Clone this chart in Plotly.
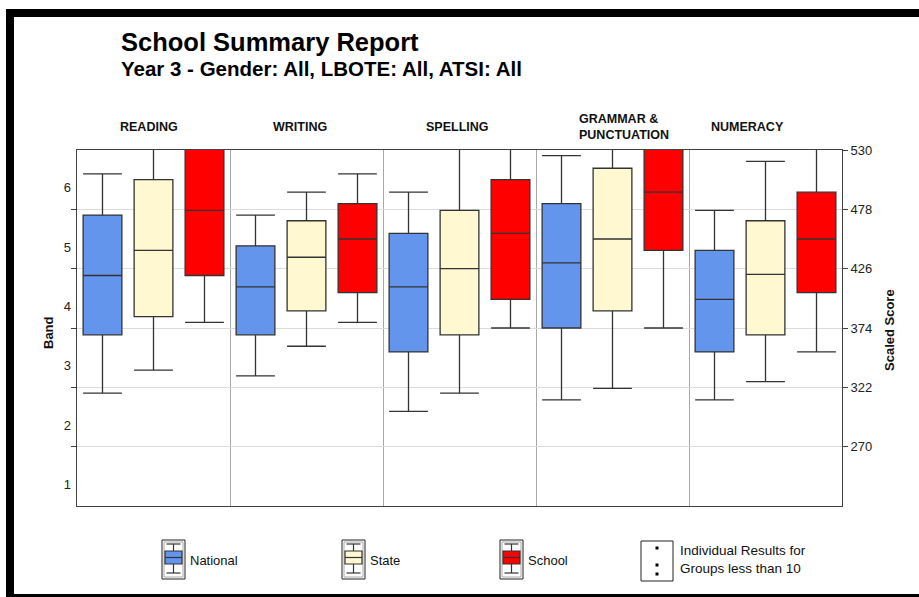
import plotly.graph_objects as go

# ---------------- data ----------------
subjects = ["READING", "WRITING", "SPELLING", "GRAMMAR &<br>PUNCTUATION", "NUMERACY"]
groups = ["National", "State", "School"]

national_upper = [509, 473, 493, 525, 477]
national_q3 = [473, 446, 457, 483, 442]
national_median = [420, 410, 410, 431, 399]
national_q1 = [368, 368, 353, 374, 353]
national_lower = [317, 332, 301, 311, 311]

state_upper = [545, 493, 545, 545, 520]
state_q3 = [504, 468, 477, 514, 468]
state_median = [442, 436, 426, 452, 421]
state_q1 = [384, 389, 368, 389, 368]
state_lower = [337, 358, 317, 321, 327]

school_upper = [560, 509, 545, 560, 545]
school_q3 = [540, 483, 504, 540, 493]
school_median = [477, 452, 457, 493, 452]
school_q1 = [420, 405, 399, 442, 405]
school_lower = [379, 379, 374, 374, 353]

scaled_ticks = [270, 322, 374, 426, 478, 530]
band_labels = ["1", "2", "3", "4", "5", "6"]
band_lower_bounds = [218, 270, 322, 374, 426, 478]

# ---------------- styling ----------------
FONT = "Liberation Sans, Arial, Helvetica, sans-serif"
fills = {"National": "#6495ED", "State": "#FFF8D0", "School": "#FF0000"}
LINE = "#333333"

W, H = 919, 597
L, R, T, B = 77, 842, 150, 506


def PX(px):
    return (px - L) / (R - L)


def PY(py):
    return (B - py) / (B - T)


series = {
    "National": (national_lower, national_q1, national_median, national_q3, national_upper),
    "State": (state_lower, state_q1, state_median, state_q3, state_upper),
    "School": (school_lower, school_q1, school_median, school_q3, school_upper),
}

fig = go.Figure()
for gi, g in enumerate(groups):
    lo, q1, med, q3, up = series[g]
    xs = [si * len(groups) + gi + 0.5 for si in range(len(subjects))]
    fig.add_trace(go.Box(
        x=xs, q1=q1, median=med, q3=q3, lowerfence=lo, upperfence=up,
        orientation="v", width=0.76, whiskerwidth=1, boxpoints=False,
        fillcolor=fills[g], line=dict(color=LINE, width=1.3),
        name=g, showlegend=False, hoverinfo="skip",
    ))

# dummy traces so the overlay axes are drawn
fig.add_trace(go.Scatter(x=[None], y=[None], yaxis="y2", showlegend=False, hoverinfo="skip"))
fig.add_trace(go.Scatter(x=[None], y=[None], yaxis="y3", showlegend=False, hoverinfo="skip"))

ymin, ymax = band_lower_bounds[0], scaled_ticks[-1]
n = len(subjects) * len(groups)

fig.update_layout(
    width=W, height=H,
    margin=dict(l=L, r=W - R, t=T, b=H - B, pad=0),
    paper_bgcolor="white", plot_bgcolor="white",
    font=dict(family=FONT, size=13, color="#222222"),
    showlegend=False,
    xaxis=dict(range=[0, n], tickvals=[3, 6, 9, 12], showticklabels=False, ticks="",
               showgrid=True, gridcolor="#A8A8A8", gridwidth=1, zeroline=False,
               showline=True, linecolor="#404040", linewidth=1, mirror=True, fixedrange=True),
    yaxis=dict(range=[ymin, ymax], tickvals=scaled_ticks[:-1], ticktext=[""] * 5,
               ticks="outside", ticklen=5, tickcolor="#404040",
               showgrid=True, gridcolor="#DCDCDC", gridwidth=1, zeroline=False,
               showline=True, linecolor="#404040", linewidth=1, fixedrange=True),
    yaxis2=dict(range=[ymin, ymax], overlaying="y", side="right", tickvals=scaled_ticks,
                ticks="outside", ticklen=5, tickcolor="#404040", showgrid=False, zeroline=False,
                showline=True, linecolor="#404040", linewidth=1,
                tickfont=dict(size=13, color="#222222"), fixedrange=True),
    yaxis3=dict(range=[ymin, ymax], overlaying="y", side="left",
                tickvals=[b + 19 for b in band_lower_bounds], ticktext=band_labels,
                ticks="", showgrid=False, zeroline=False, showline=False, ticklabelstandoff=5,
                tickfont=dict(size=13, color="#222222"), fixedrange=True),
)

ann = []
# titles
ann.append(dict(text="<b>School Summary Report</b>", xref="paper", yref="paper",
                x=PX(119), y=PY(42), xanchor="left", yanchor="middle", showarrow=False,
                font=dict(size=25.5, color="#000000")))
ann.append(dict(text="<b>Year 3 - Gender: All, LBOTE: All, ATSI: All</b>", xref="paper", yref="paper",
                x=PX(119), y=PY(68), xanchor="left", yanchor="middle", showarrow=False,
                font=dict(size=20.5, color="#000000")))
# panel titles
for si, s in enumerate(subjects):
    shift = 20 if si == len(subjects) - 1 else 41
    ann.append(dict(text="<b>%s</b>" % s, xref="x", yref="paper", x=si * 3, xshift=shift,
                    y=PY(127), xanchor="left", yanchor="middle", align="left", showarrow=False,
                    font=dict(size=12.5, color="#111111")))
# axis titles
ann.append(dict(text="<b>Band</b>", xref="paper", yref="paper", x=PX(48), y=PY(333),
                textangle=-90, showarrow=False, xanchor="center", yanchor="middle",
                font=dict(size=13, color="#111111")))
ann.append(dict(text="<b>Scaled Score</b>", xref="paper", yref="paper", x=PX(889), y=PY(330),
                textangle=-90, showarrow=False, xanchor="center", yanchor="middle",
                font=dict(size=13, color="#111111")))

shapes = []
# legend box-plot icons
legend_x = {"National": 162, "State": 342, "School": 500}
for g in groups:
    x0 = legend_x[g]
    cx = x0 + 11.5
    shapes.append(dict(type="rect", xref="paper", yref="paper", x0=PX(x0), x1=PX(x0 + 23),
                       y0=PY(579), y1=PY(540), line=dict(color="#222222", width=1), fillcolor="white"))
    shapes.append(dict(type="rect", xref="paper", yref="paper", x0=PX(x0 + 2), x1=PX(x0 + 21),
                       y0=PY(577), y1=PY(542), line=dict(color="#AAAAAA", width=1)))
    shapes.append(dict(type="line", xref="paper", yref="paper", x0=PX(cx - 7), x1=PX(cx + 7),
                       y0=PY(544), y1=PY(544), line=dict(color=LINE, width=1.2)))
    shapes.append(dict(type="line", xref="paper", yref="paper", x0=PX(cx), x1=PX(cx),
                       y0=PY(544), y1=PY(551), line=dict(color=LINE, width=1.2)))
    shapes.append(dict(type="rect", xref="paper", yref="paper", x0=PX(cx - 8.5), x1=PX(cx + 8.5),
                       y0=PY(564), y1=PY(551), line=dict(color=LINE, width=1.2), fillcolor=fills[g]))
    shapes.append(dict(type="line", xref="paper", yref="paper", x0=PX(cx - 8.5), x1=PX(cx + 8.5),
                       y0=PY(557.5), y1=PY(557.5), line=dict(color=LINE, width=1.2)))
    shapes.append(dict(type="line", xref="paper", yref="paper", x0=PX(cx), x1=PX(cx),
                       y0=PY(564), y1=PY(573), line=dict(color=LINE, width=1.2)))
    shapes.append(dict(type="line", xref="paper", yref="paper", x0=PX(cx - 7), x1=PX(cx + 7),
                       y0=PY(573), y1=PY(573), line=dict(color=LINE, width=1.2)))
    ann.append(dict(text=g, xref="paper", yref="paper", x=PX(x0 + 26), y=PY(560),
                    xanchor="left", yanchor="middle", showarrow=False,
                    font=dict(size=13, color="#111111")))

# individual results icon
shapes.append(dict(type="rect", xref="paper", yref="paper", x0=PX(641), x1=PX(673),
                   y0=PY(581), y1=PY(541), line=dict(color="#222222", width=1)))
for dy in (548, 565, 574):
    shapes.append(dict(type="rect", xref="paper", yref="paper", x0=PX(655.5), x1=PX(658.5),
                       y0=PY(dy + 1.5), y1=PY(dy - 1.5), line=dict(width=0), fillcolor="#000000"))
ann.append(dict(text="Individual Results for<br>Groups less than 10", xref="paper", yref="paper",
                x=PX(678), y=PY(559), xanchor="left", yanchor="middle", align="left",
                showarrow=False, font=dict(size=13.5, color="#111111")))

# outer black frame
shapes.append(dict(type="rect", xref="paper", yref="paper", x0=PX(6), x1=PX(925),
                   y0=PY(17), y1=PY(9), line=dict(width=0), fillcolor="#000000"))
shapes.append(dict(type="rect", xref="paper", yref="paper", x0=PX(6), x1=PX(14),
                   y0=PY(605), y1=PY(9), line=dict(width=0), fillcolor="#000000"))
shapes.append(dict(type="rect", xref="paper", yref="paper", x0=PX(6), x1=PX(925),
                   y0=PY(605), y1=PY(594), line=dict(width=0), fillcolor="#000000"))

fig.update_layout(annotations=ann, shapes=shapes)
fig.write_html("out.html", config={"displayModeBar": False},
               post_script="document.body.style.margin='0px';document.body.style.padding='0px';")
